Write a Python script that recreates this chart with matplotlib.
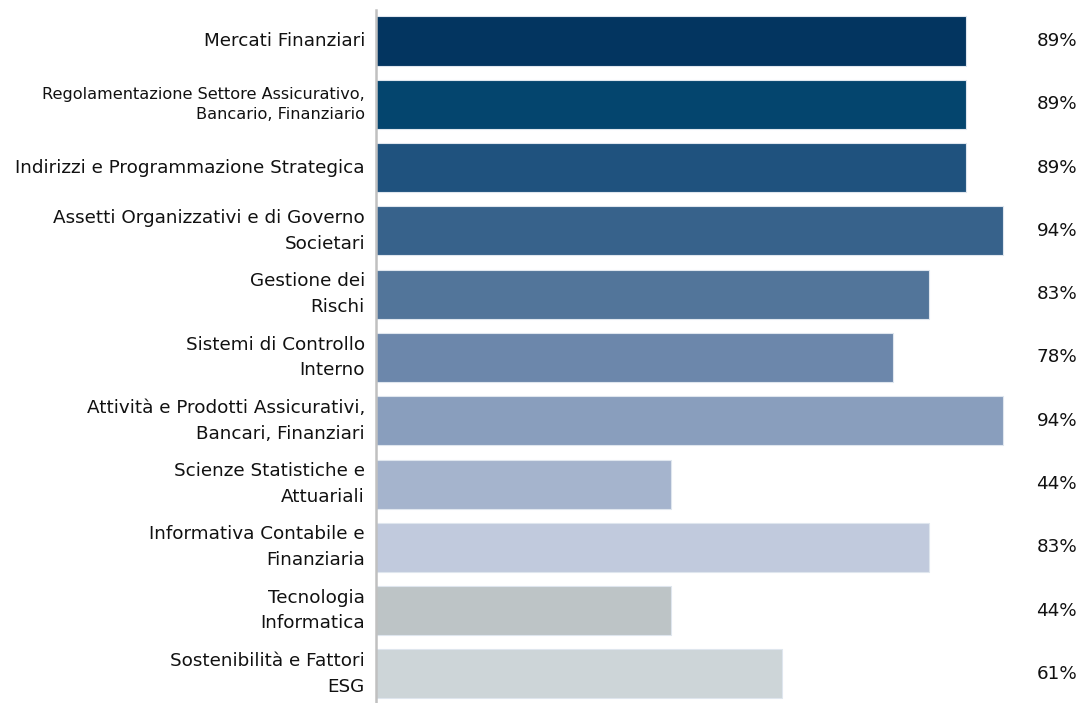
import matplotlib
matplotlib.use('Agg')
import matplotlib.pyplot as plt
import matplotlib.transforms as mtransforms

# competenze del consiglio: quota sul totale (valori n/18)
categories = [
    'Mercati Finanziari',
    'Regolamentazione Settore Assicurativo,\nBancario, Finanziario',
    'Indirizzi e Programmazione Strategica',
    'Assetti Organizzativi e di Governo\nSocietari',
    'Gestione dei\nRischi',
    'Sistemi di Controllo\nInterno',
    'Attività e Prodotti Assicurativi,\nBancari, Finanziari',
    'Scienze Statistiche e\nAttuariali',
    'Informativa Contabile e\nFinanziaria',
    'Tecnologia\nInformatica',
    'Sostenibilità e Fattori\nESG',
]
values = [88.9, 88.9, 88.9, 94.4, 83.3, 77.8, 94.4, 44.4, 83.3, 44.4, 61.1]
value_labels = ['89%', '89%', '89%', '94%', '83%', '78%', '94%', '44%', '83%', '44%', '61%']
colors = ['#033560', '#04456e', '#1f527e', '#37628b', '#52759a', '#6c87ab',
          '#899ebd', '#a5b4cd', '#c1cadd', '#bdc4c6', '#cdd5d8']

W, H = 1081, 703
fig = plt.figure(figsize=(W / 100, H / 100), dpi=100)
ax_left, ax_right, ax_top = 376, 1010, 10
ax = fig.add_axes([ax_left / W, 0, (ax_right - ax_left) / W, 1 - ax_top / H])

px_per_unit = 6.64
ypos = list(range(len(categories)))
ax.barh(ypos, values, height=0.775, color=colors, edgecolor='#dfe6ee', linewidth=0.8)

ax.set_xlim(0, (ax_right - ax_left) / px_per_unit)
ax.set_ylim(len(categories) - 0.54, -0.49)

for s in ['top', 'right', 'bottom']:
    ax.spines[s].set_visible(False)
ax.spines['left'].set_color('#c0c0c0')
ax.spines['left'].set_linewidth(1.8)
ax.set_xticks([])
ax.set_yticks([])

# etichette categorie
for i, lab in enumerate(categories):
    if i == 1:
        fs, ls = 11.6, 1.45
    else:
        fs, ls = 13.2, 1.55
    ax.annotate(lab, xy=(0, i), xytext=(-8, 0), textcoords='offset points',
                ha='right', va='center', fontsize=fs, color='#111111',
                linespacing=ls, family='DejaVu Sans')

# percentuali sul lato destro
trans = mtransforms.blended_transform_factory(fig.transFigure, ax.transData)
for i, lab in enumerate(value_labels):
    ax.text(1077 / W, i, lab, transform=trans, ha='right', va='center',
            fontsize=13.2, color='#111111', family='DejaVu Sans')

fig.savefig('out.png', dpi=100)
